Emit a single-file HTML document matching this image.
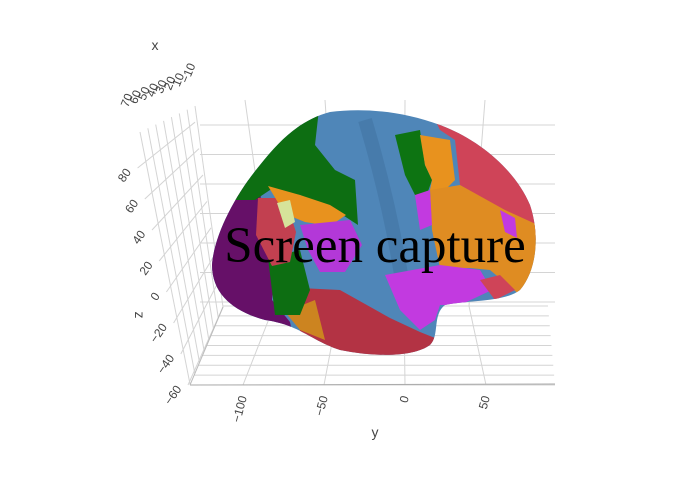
<!DOCTYPE html>
<html><head><meta charset="utf-8">
<style>
html,body{margin:0;padding:0;background:#fff;}
svg{display:block;font-family:"Liberation Sans",sans-serif;}
.tk{font-size:12px;fill:#444;}
</style></head>
<body>
<svg id="chart" width="700" height="500" viewBox="0 0 700 500">
  <defs>
    <clipPath id="brainClip">
      <path d="M330,112 C360,108 400,110 440,125 C480,140 515,170 530,205 C540,235 537,270 520,290 C505,302 470,300 445,305 C432,315 440,335 430,345 C415,356 380,358 340,350 C310,340 300,325 265,320 C235,312 212,295 212,265 C214,235 235,195 260,165 C280,140 300,120 330,112 Z"/>
    </clipPath>
  </defs>
  <g id="grid" stroke="#d4d4d4" stroke-width="1" fill="none"></g>
  <g id="brain" clip-path="url(#brainClip)">
    <rect x="200" y="100" width="350" height="270" fill="#4f86b8"/>
    <path d="M365,120 C380,170 395,230 405,300" stroke="#3f6f9c" stroke-width="14" fill="none" opacity="0.45"/>
    <polygon fill="#661068" points="200,180 262,180 258,235 275,265 272,300 290,322 300,370 200,370"/>
    <polygon fill="#0d6e12" points="200,100 320,100 315,145 335,170 355,180 358,225 335,210 300,195 270,190 255,200 200,200"/>
    <polygon fill="#0d7412" points="395,135 420,130 425,165 432,180 425,200 415,195 405,175"/>
    <polygon fill="#e8921e" points="420,135 450,140 455,180 445,190 430,190 432,180 425,165"/>
    <polygon fill="#cf4458" points="425,100 560,100 560,240 525,240 510,215 460,185 455,140 440,130"/>
    <polygon fill="#df8c22" points="430,190 460,185 505,210 560,235 560,300 520,295 490,270 470,268 440,268 432,230"/>
    <polygon fill="#c23ae0" points="500,210 515,218 517,238 505,232"/>
    <polygon fill="#c23ae0" points="415,195 430,190 432,225 420,230"/>
    <polygon fill="#c23ae0" points="385,275 440,265 480,270 492,290 460,305 440,305 435,320 420,330 400,310"/>
    <polygon fill="#cf4458" points="480,280 500,275 515,290 495,300"/>
    <polygon fill="#b33344" points="300,288 340,290 390,318 420,332 440,340 440,370 300,370"/>
    <polygon fill="#cc8420" points="285,312 315,300 325,340 300,330"/>
    <polygon fill="#0d6e12" points="268,258 300,250 310,290 300,315 275,315"/>
    <polygon fill="#c24050" points="258,198 285,198 296,232 290,262 272,266 256,235"/>
    <polygon fill="#e8921e" points="268,186 300,195 330,205 346,215 330,226 305,222 285,214"/>
    <polygon fill="#d6e39a" points="277,203 290,200 295,222 285,228"/>
    <polygon fill="#b338d8" points="300,225 350,220 362,245 345,272 320,272 308,250"/>
  </g>
  <text x="375" y="262" text-anchor="middle" font-family="Liberation Serif, serif" font-size="51" fill="#000">Screen capture</text>
  <g id="axes"></g>
  <text x="155" y="50" text-anchor="middle" font-size="14" fill="#444">x</text>
  <text x="375" y="437" text-anchor="middle" font-size="14" fill="#444">y</text>
  <text x="140" y="320" text-anchor="middle" font-size="14" fill="#444" transform="rotate(90 140 315)">z</text>
</svg>
<script>
const zTicks = [-60, -40, -20, 0, 20, 40, 60, 80];
const yTicks = [-100, -50, 0, 50];
const xTicks = [-10, 10, 20, 30, 40, 50, 60, 70];
const NS = "http://www.w3.org/2000/svg";
const grid = document.getElementById('grid');
const axes = document.getElementById('axes');
// axis functions (projected 3D)
function zLeft(v){ return {x: 188 - (v + 60) * 0.36, y: 385 - (v + 60) * 1.55}; }
function zRight(v){ return {x: 223 - (v + 60) * 0.2, y: 307 - (v + 60) * 1.32}; }
function yFront(v){ return {x: 405 + v * 1.62, y: 385}; }
function yBack(v){ return {x: 404 + v * 1.3, y: 306}; }
function yTop(v){ return {x: 405 + v * 1.6, y: 100}; }
function xTop(i,n){ const t=i/(n-1); return {x: 140 + t * 55, y: 132 - t * 26}; }
function xBottom(i,n){ const t=i/(n-1); return {x: 190 + t * 33, y: 384 - t * 77}; }
function xLabel(i,n){ const t=i/(n-1); return {x: 128 + t * 60, y: 108 - t * 24}; }
function line(x1,y1,x2,y2,parent,stroke){
  const l=document.createElementNS(NS,'line');
  l.setAttribute('x1',x1);l.setAttribute('y1',y1);l.setAttribute('x2',x2);l.setAttribute('y2',y2);
  if(stroke) l.setAttribute('stroke',stroke);
  parent.appendChild(l);return l;
}
// floor lines
for(let i=0;i<9;i++){
  const t=i/8;
  const y=306+t*79;
  const l=line(223-t*33,y,548+t*7,y,grid);
  
  
}
// back wall horizontal lines
for(let i=0;i<7;i++){
  const y=125+i*29.5;
  const l=line(200,y,555,y,grid);
  
  
}
// left wall z lines + labels
zTicks.forEach(v=>{
  const a=zLeft(v), b=zRight(v);
  const l=line(a.x,a.y,b.x,b.y,grid);
  
  
  const lx=a.x-6, ly=a.y+4;
  const t=document.createElementNS(NS,'text');
  t.setAttribute('class','tk');
  t.setAttribute('x',lx);t.setAttribute('y',ly);
  t.setAttribute('text-anchor','end');
  t.setAttribute('transform',`rotate(-55 ${lx} ${ly})`);
  t.textContent=v<0?'\u2212'+Math.abs(v):v;
  
  
  axes.appendChild(t);
});
// left wall x lines + labels
xTicks.forEach((v,i)=>{
  const n=xTicks.length, k=n-1-i;
  const a=xTop(k,n), b=xBottom(k,n);
  const l=line(a.x,a.y,b.x,b.y,grid);
  
  
  const p=xLabel(k,n);
  const t=document.createElementNS(NS,'text');
  t.setAttribute('class','tk');
  t.setAttribute('font-size','11');
  t.setAttribute('x',p.x);t.setAttribute('y',p.y);
  t.setAttribute('transform',`rotate(-68 ${p.x} ${p.y})`);
  t.textContent=v<0?'\u2212'+Math.abs(v):v;
  
  
  axes.appendChild(t);
});
// y lines + labels
yTicks.forEach(v=>{
  const f=yFront(v), b=yBack(v), tp=yTop(v);
  const pl=document.createElementNS(NS,'polyline');
  pl.setAttribute('points',`${f.x},${f.y} ${b.x},${b.y} ${tp.x},${tp.y}`);
  
  
  grid.appendChild(pl);
  const lx=f.x+4, ly=f.y+12;
  const t=document.createElementNS(NS,'text');
  t.setAttribute('class','tk');
  t.setAttribute('x',lx);t.setAttribute('y',ly);
  t.setAttribute('text-anchor','end');
  t.setAttribute('transform',`rotate(-75 ${lx} ${ly})`);
  t.textContent=v<0?'\u2212'+Math.abs(v):v;
  
  
  axes.appendChild(t);
});
const e1=line(190,385,555,384,axes,'#aaa');


const e2=line(190,385,223,307,axes,'#bbb');


</script>
</body></html>
